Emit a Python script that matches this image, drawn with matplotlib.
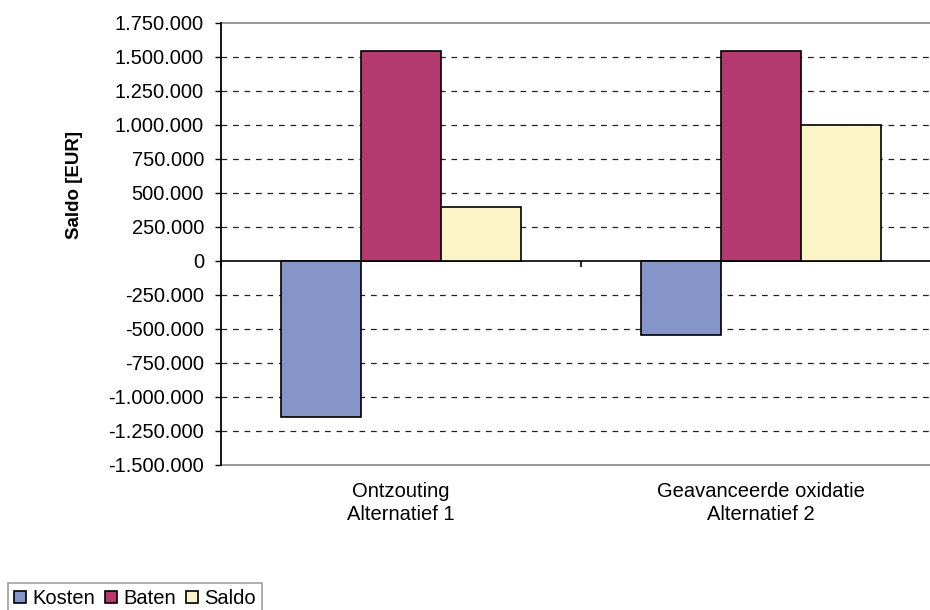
import numpy as np
import matplotlib
matplotlib.use("Agg")
import matplotlib.pyplot as plt

plt.rcParams['font.family'] = ['Liberation Sans', 'DejaVu Sans']

categories = ["Ontzouting\nAlternatief 1", "Geavanceerde oxidatie\nAlternatief 2"]
series = ["Kosten", "Baten", "Saldo"]
kosten = [-1150000, -545000]
baten = [1545000, 1545000]
saldo = [395000, 1000000]
colors = ["#8595C8", "#B3396E", "#FAF4C6"]

ymin, ymax, ystep = -1500000, 1750000, 250000

fig = plt.figure(figsize=(9.3, 6.1), dpi=100)
# plot area runs off the right edge, as in the original
ax = fig.add_axes([221 / 930, 1 - 465 / 610, 720 / 930, 442 / 610])

x = np.arange(len(categories))
width = 80 / 360
for i, (name, vals) in enumerate(zip(series, [kosten, baten, saldo])):
    ax.bar(x + (i - 1) * width, vals, width, color=colors[i],
           edgecolor="black", linewidth=1.2, label=name, zorder=3)

ax.set_xlim(-0.5, len(categories) - 0.5)
ax.set_ylim(ymin, ymax)
yticks = np.arange(ymin, ymax + 1, ystep)
ax.set_yticks(yticks)
ax.set_yticklabels([f"{v:,.0f}".replace(",", ".") for v in yticks])
ax.tick_params(axis="y", length=4.3, width=1, pad=8, labelsize=14.5, color="black")

ax.set_xticks(x)
ax.set_xticklabels(categories, linespacing=1.3)
ax.tick_params(axis="x", length=0, pad=12, labelsize=14.5)

# dashed gridlines
for v in yticks:
    if v not in (ymin, ymax, 0):
        ax.axhline(v, color="#222222", linewidth=0.9, dashes=(4.6, 4.6), zorder=1)

ax.spines["left"].set_color("black")
ax.spines["left"].set_linewidth(1.3)
ax.spines["left"].set_zorder(5)
for s in ["top", "bottom", "right"]:
    ax.spines[s].set_color("#888888")
    ax.spines[s].set_linewidth(1.2)

# category axis crosses at zero
zero_pos = (0 - ymin) / (ymax - ymin)
sec = ax.secondary_xaxis(zero_pos)
sec.set_xticks(np.arange(-0.5, len(categories), 1.0))
sec.tick_params(axis="x", length=4, width=1.2, direction="out", labelbottom=False,
                labeltop=False, bottom=True, top=False)
sec.xaxis.set_ticks_position("bottom")
sec.spines["bottom"].set_color("black")
sec.spines["bottom"].set_linewidth(1.2)
sec.set_xticklabels([])

fig.text(74 / 930, 1 - 185 / 610, "Saldo [EUR]", rotation=90, fontsize=13.5,
         fontweight="bold", ha="center", va="center")

leg = fig.legend(loc="upper left", bbox_to_anchor=(8 / 930, 1 - 583 / 610),
                 ncol=3, fontsize=14.5, frameon=True, fancybox=False,
                 edgecolor="#888888", handlelength=0.6, handleheight=0.6,
                 handletextpad=0.3, columnspacing=0.5, borderpad=0.3,
                 borderaxespad=0)
leg.get_frame().set_linewidth(1.2)

fig.savefig("out.png", dpi=100)
